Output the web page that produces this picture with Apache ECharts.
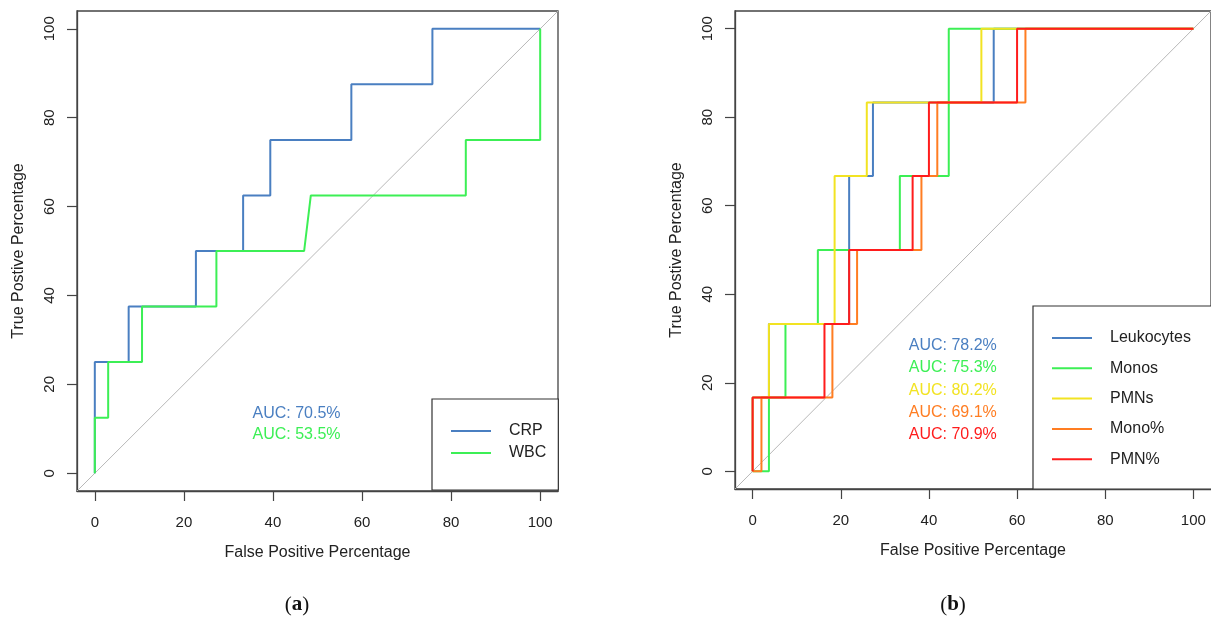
<!DOCTYPE html>
<html>
<head>
<meta charset="utf-8">
<script src="https://cdn.jsdelivr.net/npm/echarts@6/dist/echarts.min.js"></script>
<style>
html,body{margin:0;padding:0;background:#fff;}
#chart{width:1211px;height:617px;}
</style>
</head>
<body>
<div id="chart"></div>
<script>
// ---- data ----
const tickValues = [0, 20, 40, 60, 80, 100];
const diagonalX = [-4, 104];
const diagonalY = [-4, 104];

// Panel (a)
const crpFpr = [0, 0, 7.6, 7.6, 22.7, 22.7, 33.3, 33.3, 39.4, 39.4, 57.6, 57.6, 75.8, 75.8, 100];
const crpTpr = [0, 25, 25, 37.5, 37.5, 50, 50, 62.5, 62.5, 75, 75, 87.5, 87.5, 100, 100];
const wbcFpr = [0, 0, 3.0, 3.0, 10.6, 10.6, 27.3, 27.3, 47.0, 48.5, 83.3, 83.3, 100, 100];
const wbcTpr = [0, 12.5, 12.5, 25, 25, 37.5, 37.5, 50, 50, 62.5, 62.5, 75, 75, 100];

// Panel (b)
const leuFpr = [0, 0, 3.7, 3.7, 21.9, 21.9, 27.3, 27.3, 54.7, 54.7, 100];
const leuTpr = [0, 16.7, 16.7, 33.3, 33.3, 66.7, 66.7, 83.3, 83.3, 100, 100];
const monFpr = [0, 3.7, 3.7, 7.45, 7.45, 14.8, 14.8, 33.4, 33.4, 44.5, 44.5, 100];
const monTpr = [0, 0, 16.7, 16.7, 33.3, 33.3, 50, 50, 66.7, 66.7, 100, 100];
const pmnFpr = [0, 0, 3.7, 3.7, 18.6, 18.6, 25.9, 25.9, 51.9, 51.9, 100];
const pmnTpr = [0, 16.7, 16.7, 33.3, 33.3, 66.7, 66.7, 83.3, 83.3, 100, 100];
const monoPctFpr = [0, 2, 2, 18.1, 18.1, 23.7, 23.7, 38.3, 38.3, 41.9, 41.9, 61.9, 61.9, 100];
const monoPctTpr = [0, 0, 16.7, 16.7, 33.3, 33.3, 50, 50, 66.7, 66.7, 83.3, 83.3, 100, 100];
const pmnPctFpr = [0, 0, 16.3, 16.3, 21.9, 21.9, 36.3, 36.3, 40, 40, 60, 60, 100];
const pmnPctTpr = [0, 16.7, 16.7, 33.3, 33.3, 50, 50, 66.7, 66.7, 83.3, 83.3, 100, 100];

const namesA = ['CRP', 'WBC'];
const namesB = ['Leukocytes', 'Monos', 'PMNs', 'Mono%', 'PMN%'];
const aucA = ['AUC: 70.5%', 'AUC: 53.5%'];
const aucB = ['AUC: 78.2%', 'AUC: 75.3%', 'AUC: 80.2%', 'AUC: 69.1%', 'AUC: 70.9%'];
const xTitle = 'False Positive Percentage';
const yTitle = 'True Postive Percentage';

// ---- styling ----
const FONT = 'Liberation Sans, Arial, Helvetica, sans-serif';
const colA = ['#4a7fc1', '#3cef55'];
const colB = ['#4a7fc1', '#3cef55', '#f2e322', '#ff7d22', '#ff1c1c'];

function pairs(xs, ys) { return xs.map((x, i) => [x, ys[i]]); }

function xAxis(gi) {
  return {
    gridIndex: gi, type: 'value', min: -4, max: 104,
    axisLine: { show: true, onZero: false, lineStyle: { color: '#444', width: 1.3 } },
    splitLine: { show: false },
    axisTick: { show: true, inside: false, length: 10, customValues: tickValues, lineStyle: { color: '#444', width: 1.2 } },
    axisLabel: { customValues: tickValues, fontSize: 15, color: '#222', fontFamily: FONT, margin: 24 },
    name: xTitle, nameLocation: 'middle', nameGap: 54,
    nameTextStyle: { fontSize: 16, color: '#222', fontFamily: FONT }
  };
}
function yAxis(gi) {
  return {
    gridIndex: gi, type: 'value', min: -4, max: 104,
    axisLine: { show: true, onZero: false, lineStyle: { color: '#444', width: 1.3 } },
    splitLine: { show: false },
    axisTick: { show: true, inside: false, length: 10, customValues: tickValues, lineStyle: { color: '#444', width: 1.2 } },
    axisLabel: { customValues: tickValues, fontSize: 15, color: '#222', fontFamily: FONT, margin: 20, rotate: 90 },
    name: yTitle, nameLocation: 'middle', nameGap: 50,
    nameTextStyle: { fontSize: 16, color: '#222', fontFamily: FONT }
  };
}
function lineSeries(name, gi, xs, ys, color, z) {
  return {
    name: name, type: 'line', xAxisIndex: gi, yAxisIndex: gi,
    data: pairs(xs, ys), symbol: 'none', z: z || 3,
    lineStyle: { color: color, width: 2 }, itemStyle: { color: color },
    animation: false, silent: true
  };
}
function diag(gi) {
  return {
    type: 'line', xAxisIndex: gi, yAxisIndex: gi, data: pairs(diagonalX, diagonalY),
    symbol: 'none', z: 1, lineStyle: { color: '#b8b8b8', width: 1 }, animation: false, silent: true
  };
}

const series = [
  diag(0), diag(1),
  lineSeries(namesA[0], 0, crpFpr, crpTpr, colA[0]),
  lineSeries(namesA[1], 0, wbcFpr, wbcTpr, colA[1]),
  lineSeries(namesB[0], 1, leuFpr, leuTpr, colB[0]),
  lineSeries(namesB[1], 1, monFpr, monTpr, colB[1]),
  lineSeries(namesB[2], 1, pmnFpr, pmnTpr, colB[2]),
  lineSeries(namesB[3], 1, monoPctFpr, monoPctTpr, colB[3]),
  lineSeries(namesB[4], 1, pmnPctFpr, pmnPctTpr, colB[4])
];

const graphics = [];
aucA.forEach((t, i) => graphics.push({
  type: 'text', x: 296.5, y: 413.3 + i * 21.7,
  style: { text: t, fill: colA[i], font: '16px ' + FONT, textAlign: 'center', textVerticalAlign: 'middle' }
}));
aucB.forEach((t, i) => graphics.push({
  type: 'text', x: 952.8, y: 345.7 + i * 22.2,
  style: { text: t, fill: colB[i], font: '16px ' + FONT, textAlign: 'center', textVerticalAlign: 'middle' }
}));
['a', 'b'].forEach((c, i) => graphics.push({
  type: 'text', x: i === 0 ? 297 : 953, y: 605,
  style: {
    text: '{p|(}{b|' + c + '}{p|)}', textAlign: 'center', textVerticalAlign: 'middle',
    rich: {
      p: { fontFamily: 'Liberation Serif, serif', fontSize: 21, fill: '#111' },
      b: { fontFamily: 'Liberation Serif, serif', fontSize: 21, fontWeight: 'bold', fill: '#111' }
    }
  }
}));

const legendCommon = {
  orient: 'vertical', itemWidth: 40, itemHeight: 2, icon: 'rect',
  borderColor: '#333', borderWidth: 1.2, borderRadius: 0, backgroundColor: '#fff',
  textStyle: { fontSize: 16, color: '#222', fontFamily: FONT, padding: [0, 0, 0, 13], lineHeight: 14 },
  selectedMode: false
};

const option = {
  backgroundColor: '#fff',
  animation: false,
  grid: [
    { left: 77, top: 11, width: 481, height: 480, show: true, borderColor: '#444', borderWidth: 1.3, backgroundColor: 'transparent' },
    { left: 735, top: 11, width: 478, height: 478, show: true, borderColor: '#444', borderWidth: 1.3, backgroundColor: 'transparent' }
  ],
  xAxis: [xAxis(0), xAxis(1)],
  yAxis: [yAxis(0), yAxis(1)],
  legend: [
    Object.assign({}, legendCommon, { data: namesA, left: 432, top: 399, itemGap: 6, padding: [24, 12, 29, 19] }),
    Object.assign({}, legendCommon, { data: namesB, left: 1033, top: 306, itemGap: 14.3, padding: [24, 40, 22, 19] })
  ],
  series: series,
  graphic: graphics
};

const chart = echarts.init(document.getElementById('chart'), null, { renderer: 'canvas' });
chart.setOption(option);
</script>
</body>
</html>
